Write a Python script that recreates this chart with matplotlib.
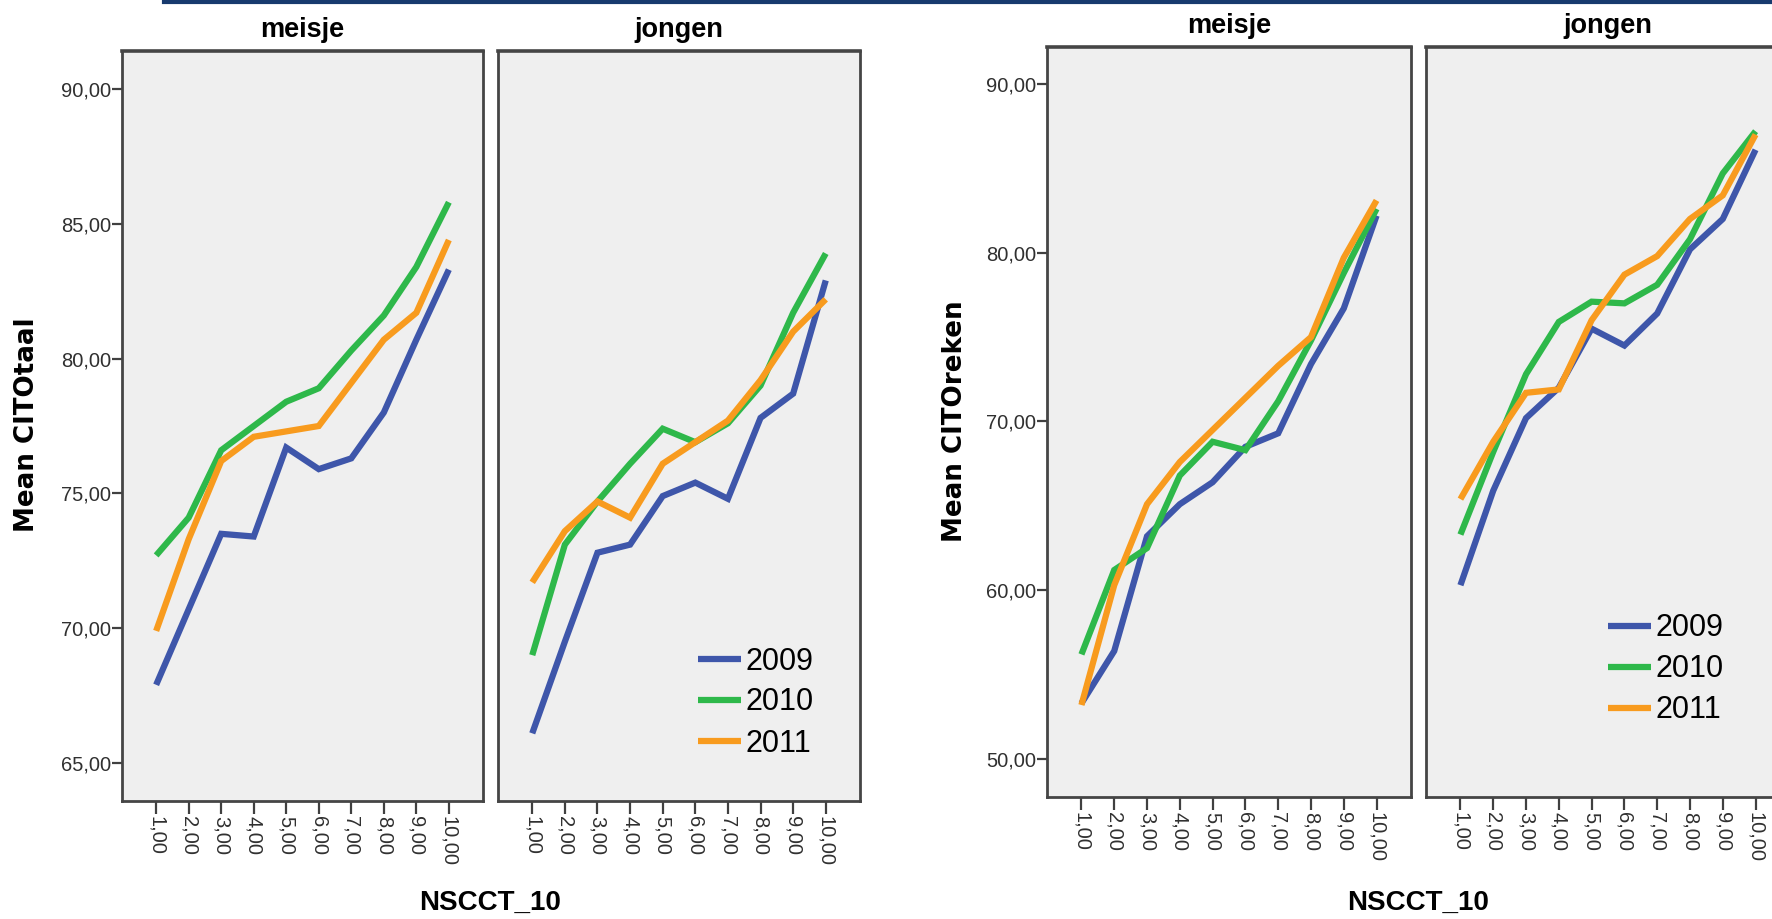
import matplotlib
matplotlib.use("Agg")
import matplotlib.pyplot as plt
from matplotlib import font_manager
from matplotlib.lines import Line2D
import matplotlib.transforms as mtransforms

# ---------------- data ----------------
nscct = [1, 2, 3, 4, 5, 6, 7, 8, 9, 10]
tick_labels = ["1,00", "2,00", "3,00", "4,00", "5,00", "6,00", "7,00", "8,00", "9,00", "10,00"]
years = ["2009", "2010", "2011"]
panels = ["meisje", "jongen"]

taal_meisje_2009 = [67.9, 70.7, 73.5, 73.4, 76.7, 75.9, 76.3, 78.0, 80.7, 83.3]
taal_meisje_2010 = [72.7, 74.1, 76.6, 77.5, 78.4, 78.9, 80.3, 81.6, 83.4, 85.8]
taal_meisje_2011 = [69.9, 73.3, 76.2, 77.1, 77.3, 77.5, 79.1, 80.7, 81.7, 84.4]
taal_jongen_2009 = [66.1, 69.5, 72.8, 73.1, 74.9, 75.4, 74.8, 77.8, 78.7, 82.9]
taal_jongen_2010 = [69.0, 73.1, 74.7, 76.1, 77.4, 76.9, 77.6, 79.0, 81.7, 83.9]
taal_jongen_2011 = [71.7, 73.6, 74.7, 74.1, 76.1, 76.9, 77.7, 79.2, 81.0, 82.2]

reken_meisje_2009 = [53.3, 56.4, 63.2, 65.1, 66.4, 68.5, 69.3, 73.4, 76.7, 82.2]
reken_meisje_2010 = [56.2, 61.2, 62.5, 66.8, 68.8, 68.3, 71.2, 74.8, 78.8, 82.6]
reken_meisje_2011 = [53.2, 60.3, 65.1, 67.6, 69.5, 71.4, 73.3, 75.0, 79.7, 83.1]
reken_jongen_2009 = [60.3, 65.9, 70.2, 72.0, 75.5, 74.5, 76.4, 80.2, 82.0, 86.1]
reken_jongen_2010 = [63.3, 68.2, 72.8, 75.9, 77.1, 77.0, 78.1, 80.8, 84.7, 87.2]
reken_jongen_2011 = [65.4, 68.8, 71.7, 71.9, 76.0, 78.7, 79.8, 82.0, 83.4, 87.0]

taal_yticks = [65, 70, 75, 80, 85, 90]
taal_ylabels = ["65,00", "70,00", "75,00", "80,00", "85,00", "90,00"]
reken_yticks = [50, 60, 70, 80, 90]
reken_ylabels = ["50,00", "60,00", "70,00", "80,00", "90,00"]

colors = ["#3E56AA", "#2EB84A", "#F89B1E"]

# ---------------- fonts ----------------
avail = {f.name for f in font_manager.fontManager.ttflist}
if "Liberation Sans Narrow" in avail:
    TICK_FONT, TICK_SIZE = "Liberation Sans Narrow", 17.5
else:
    TICK_FONT, TICK_SIZE = "Liberation Sans", 14.5
SANS = "Liberation Sans"

W, H, DPI = 1772, 919, 100
fig = plt.figure(figsize=(W / DPI, H / DPI), dpi=DPI)
fig.patch.set_facecolor("white")


def px_axes(x0, y0, x1, y1):
    return fig.add_axes([x0 / W, 1 - y1 / H, (x1 - x0) / W, (y1 - y0) / H])


def style_panel(ax, title, ylim, yticks, ylabels, show_y, legend_at=None):
    ax.set_facecolor("#EFEFEF")
    for s in ax.spines.values():
        s.set_color("#454545")
        s.set_linewidth(2.0)
    ax.spines["top"].set_linewidth(2.6)
    ax.set_xlim(-0.05, 11.05)
    ax.set_ylim(*ylim)
    ax.set_xticks(nscct)
    ax.set_xticklabels(tick_labels, rotation=-90, ha="center", va="top",
                       family=TICK_FONT, fontsize=TICK_SIZE, color="#303030")
    ax.tick_params(axis="x", length=9, width=1.6, color="#404040", pad=1.5)
    if show_y:
        ax.set_yticks(yticks)
        ax.set_yticklabels(ylabels, family=TICK_FONT, fontsize=TICK_SIZE, color="#303030")
        ax.tick_params(axis="y", length=7, width=1.6, color="#404040", pad=1)
    else:
        ax.set_yticks([])
    off = mtransforms.offset_copy(ax.transAxes, fig=fig, y=10, units="points")
    ax.text(0.5, 1.0, title, transform=off, ha="center", va="baseline",
            family=SANS, fontweight="bold", fontsize=19.5, color="black")
    if legend_at is not None:
        leg = ax.legend(loc="upper left", bbox_to_anchor=legend_at, frameon=False,
                        prop={"family": SANS, "size": 22}, handlelength=1.4,
                        handletextpad=0.15, labelspacing=0.36, borderpad=0,
                        borderaxespad=0)
        for t in leg.get_texts():
            t.set_fontweight("medium")


def draw(ax, series):
    for vals, yr, c in zip(series, years, colors):
        ax.plot(nscct, vals, color=c, linewidth=4.5, label=yr,
                solid_joinstyle="miter", solid_capstyle="butt")


# ---------------- left chart (taal) ----------------
taal_ylim = (63.59, 91.41)
ax1 = px_axes(122, 51, 483, 801)
draw(ax1, [taal_meisje_2009, taal_meisje_2010, taal_meisje_2011])
style_panel(ax1, panels[0], taal_ylim, taal_yticks, taal_ylabels, True)

ax2 = px_axes(498, 51, 860, 801)
draw(ax2, [taal_jongen_2009, taal_jongen_2010, taal_jongen_2011])
style_panel(ax2, panels[1], taal_ylim, taal_yticks, taal_ylabels, False,
            legend_at=(0.553, 0.206))

# ---------------- right chart (reken) ----------------
reken_ylim = (47.75, 92.19)
ax3 = px_axes(1047, 47, 1411, 797)
draw(ax3, [reken_meisje_2009, reken_meisje_2010, reken_meisje_2011])
style_panel(ax3, panels[0], reken_ylim, reken_yticks, reken_ylabels, True)

ax4 = px_axes(1426, 47, 1790, 797)
draw(ax4, [reken_jongen_2009, reken_jongen_2010, reken_jongen_2011])
style_panel(ax4, panels[1], reken_ylim, reken_yticks, reken_ylabels, False,
            legend_at=(0.501, 0.245))

# ---------------- axis titles ----------------
fig.text(27 / W, 1 - 425 / H, "Mean CITOtaal", rotation=90, ha="center", va="center",
         family="DejaVu Sans", fontweight="bold", fontsize=18.8, color="black")
fig.text(955 / W, 1 - 421 / H, "Mean CITOreken", rotation=90, ha="center", va="center",
         family="DejaVu Sans", fontweight="bold", fontsize=18.8, color="black")
fig.text(490 / W, 1 - 910 / H, "NSCCT_10", ha="center", va="baseline",
         family=SANS, fontweight="bold", fontsize=20, color="black")
fig.text(1418 / W, 1 - 910 / H, "NSCCT_10", ha="center", va="baseline",
         family=SANS, fontweight="bold", fontsize=20, color="black")

# top rule
fig.add_artist(Line2D([164 / W, 1.0], [1 - 2 / H, 1 - 2 / H], transform=fig.transFigure,
                      color="#173A6E", linewidth=3.0))

fig.savefig("out.png", dpi=DPI)
